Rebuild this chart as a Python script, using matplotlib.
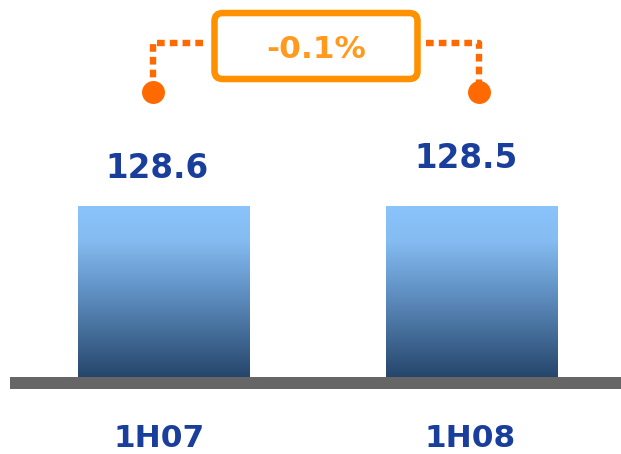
import matplotlib
matplotlib.use("Agg")
import matplotlib.pyplot as plt
import numpy as np
from matplotlib.colors import LinearSegmentedColormap
from matplotlib.patches import FancyBboxPatch

periods = ["1H07", "1H08"]
values = [128.6, 128.5]

label_dx = [-7.5, -5.5]   # px shift of the value labels
label_dy = [28, 38]       # px from bar top to label baseline
period_dx = [-4.5, -2.0]  # px shift of the period labels

NAVY = "#1a3e9b"
DOT = "#ff6a00"
BOX = "#ff9100"

bar_cmap = LinearSegmentedColormap.from_list(
    "bar", [(0.0, "#26466c"), (0.5, "#6191c4"), (0.8, "#85bcf1"), (1.0, "#8ac4fb")])

fig = plt.figure(figsize=(6.21, 4.54), dpi=100)
ax = fig.add_axes([0, 0, 1, 1])
ax.set_xlim(-0.5325, 1.4838)
ax.set_ylim(-57.9, 283.5)
ax.axis("off")

x = np.arange(len(values))
bars = ax.bar(x, values, width=0.558, color="none", edgecolor="none", zorder=2)

# vertical gradient fill clipped to each bar
grad = np.linspace(0, 1, 256).reshape(-1, 1)
for b in bars:
    x0, y0 = b.get_x(), b.get_y()
    im = ax.imshow(grad, cmap=bar_cmap, origin="lower", aspect="auto",
                   extent=[x0, x0 + b.get_width(), y0, y0 + b.get_height()],
                   zorder=2)
    im.set_clip_path(b)

# thick grey base line
ax.fill_between([-0.5, 1.49], -9.0, 0, color="#666666", lw=0, zorder=3)

for i, v in enumerate(values):
    ax.annotate(f"{v:.1f}", (i, v), xytext=(label_dx[i] * 0.72, label_dy[i] * 0.72),
                textcoords="offset points", ha="center", va="baseline",
                fontsize=23.5, fontweight="bold", color=NAVY)
    ax.annotate(periods[i], (i, -52.6), xytext=(period_dx[i] * 0.72, 0),
                textcoords="offset points", ha="center", va="baseline",
                fontsize=22.5, fontweight="bold", color=NAVY)

# change bracket, dashes laid out from the box outwards
chg = (values[1] - values[0]) / values[0] * 100
y_dot, y_top = 214.3, 251.2
dots = dict(color=DOT, lw=4.6, linestyle=(0, (1.2, 0.8)), dash_capstyle="butt",
            solid_joinstyle="miter", zorder=4)
ax.plot([0.127, -0.035, -0.035], [y_top, y_top, y_dot + 4], **dots)
ax.plot([0.85, 1.023, 1.023], [y_top, y_top, y_dot + 4], **dots)
ax.plot([-0.035, 1.023], [y_dot, y_dot], "o", ms=15.5, color=DOT, lw=0, zorder=5)

box = FancyBboxPatch((0.164, 224.1), 0.659, 49.6,
                     boxstyle="round,pad=0,rounding_size=0.026",
                     mutation_aspect=231.6, fc="white", ec=BOX, lw=4.7, zorder=5)
ax.add_patch(box)
ax.text(0.4935, 239.9, f"{chg:.1f}%", ha="center", va="baseline",
        fontsize=22.5, fontweight="bold", color="#ff9a1f", zorder=6)

fig.savefig("out.png", dpi=100)
